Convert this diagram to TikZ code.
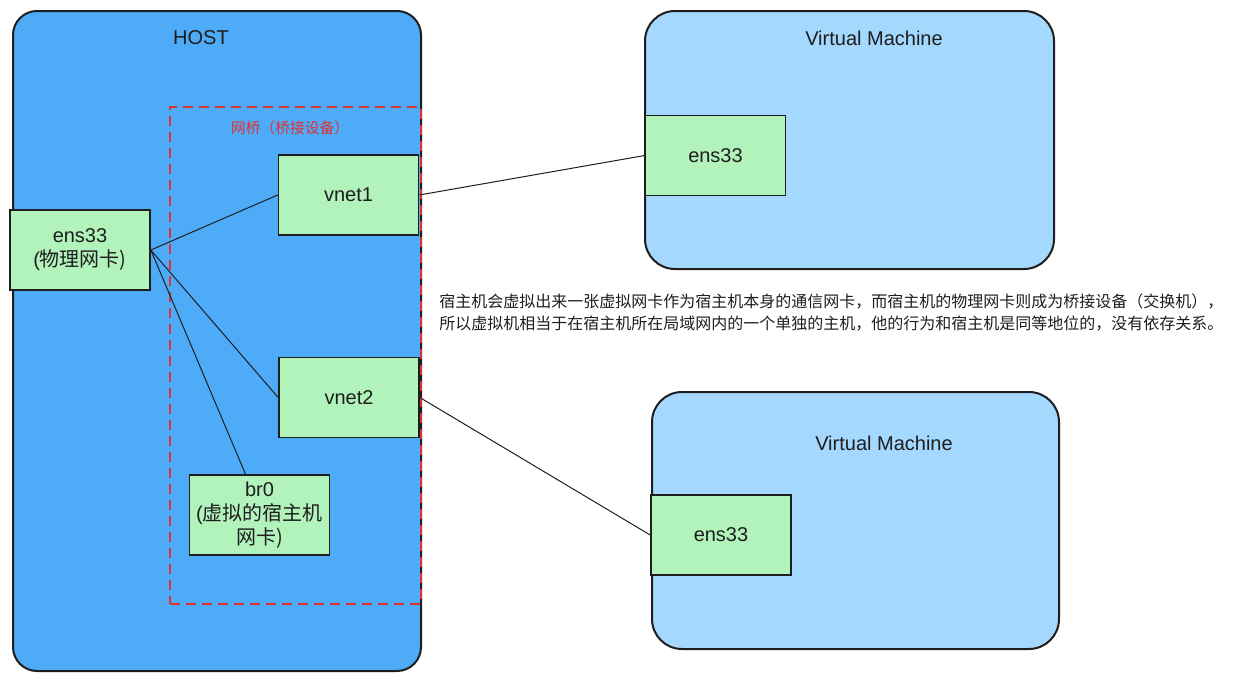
\documentclass[tikz,border=0pt]{standalone}
\usepackage{fontspec}
\setmainfont{Liberation Sans}
\newfontfamily\cjk{Noto Sans CJK SC}
\usepackage{xcolor}
\usepackage{tikz}
\usetikzlibrary{positioning}
\definecolor{ink}{HTML}{1E1E1E}
\definecolor{hostblue}{HTML}{4DABF7}
\definecolor{vmblue}{HTML}{A5D8FF}
\definecolor{nicgreen}{HTML}{B2F2BB}
\definecolor{bridgered}{HTML}{E03131}
\tikzset{
  wire/.style={draw=ink,line width=0.5pt},
  host/.style={draw=ink,line width=1pt,fill=hostblue,rounded corners=12pt,anchor=north west},
  vm/.style={draw=ink,line width=1pt,fill=vmblue,rounded corners=15pt,anchor=north west},
  bridge/.style={draw=bridgered,line width=1pt,dash pattern=on 5pt off 3pt,anchor=north west},
  nic/.style={draw=ink,line width=0.8pt,fill=nicgreen,align=center,minimum width=70pt,
              minimum height=40pt,inner sep=2pt,text=ink,font=\fontsize{10}{12}\selectfont},
  title/.style={text=ink,font=\fontsize{10}{12}\selectfont},
  note/.style={text=ink,align=left,anchor=north west,inner sep=0pt,font=\cjk\fontsize{8}{11}\selectfont}
}
\begin{document}
\begin{tikzpicture}[x=0.5pt,y=-0.5pt]
  \useasboundingbox (0,0) rectangle (1233,680);
  % machines
  \node[host,minimum width=204pt,minimum height=330pt] (hostbox) at (12,10) {};
  \node[title] (hostlabel) at (201,38) {HOST};
  \node[vm,minimum width=204.5pt,minimum height=129pt] (vmone) at (644,10) {};
  \node[title] (vmonelabel) at (874,38) {Virtual Machine};
  \node[vm,minimum width=203.5pt,minimum height=128.5pt] (vmtwo) at (651,391) {};
  \node[title] (vmtwolabel) at (884,443) {Virtual Machine};
  % bridge
  \node[bridge,minimum width=125.5pt,minimum height=248.5pt] (bridgebox) at (169,106) {};
  \node[text=bridgered,font=\cjk\fontsize{7.4}{9}\selectfont] (bridgelabel) at (290,128) {网桥（桥接设备）};
  % network cards
  \node[nic] (phy) at (80,250) {ens33\\(\cjk 物理网卡)};
  \node[nic] (vnetone) at (348.5,195) {vnet1};
  \node[nic] (vnettwo) at (349,397.5) {vnet2};
  \node[nic] (brzero) at (259.5,515) {br0\\(\cjk 虚拟的宿主机\\\cjk 网卡)};
  \node[nic] (vmonenic) at (715.5,155.5) {ens33};
  \node[nic] (vmtwonic) at (721,535) {ens33};
  % links
  \draw[wire] (phy.east) -- (vnetone.west);
  \draw[wire] (phy.east) -- (vnettwo.west);
  \draw[wire] (phy.east) -- ([xshift=-7pt]brzero.north);
  \draw[wire] (vnetone.east) -- (vmonenic.west);
  \draw[wire] (vnettwo.east) -- (vmtwonic.west);
  \node[note] (explain) at (439,293) {宿主机会虚拟出来一张虚拟网卡作为宿主机本身的通信网卡，而宿主机的物理网卡则成为桥接设备（交换机），\\所以虚拟机相当于在宿主机所在局域网内的一个单独的主机，他的行为和宿主机是同等地位的，没有依存关系。};
\end{tikzpicture}
\end{document}
